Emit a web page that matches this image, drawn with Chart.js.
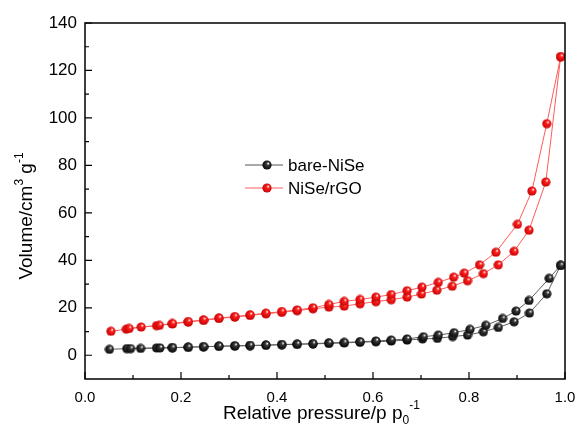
<!DOCTYPE html>
<html lang="en">
<head>
  <meta charset="UTF-8" />
  <title>BET isotherms</title>
  <script src="https://cdn.jsdelivr.net/npm/chart.js"></script>
  <style>
    body { margin: 0; background: #fff; }
    canvas { display: block; }
  </style>
</head>
<body>
  <canvas id="iso" width="577" height="439"></canvas>

  <script>
    // tick labels
    const xTicks = [0, 0.2, 0.4, 0.6, 0.8, 1.0];
    const xMinor = [0.1, 0.3, 0.5, 0.7, 0.9];
    const yTicks = [0, 20, 40, 60, 80, 100, 120, 140];
    const yMinor = [10, 30, 50, 70, 90, 110, 130];

    // bare-NiSe, adsorption + desorption branch
    const bareAdsP = [0.051, 0.087, 0.116, 0.149, 0.182, 0.215, 0.247, 0.279, 0.312, 0.344, 0.377, 0.410, 0.442, 0.475, 0.508, 0.540, 0.573, 0.606, 0.638, 0.671, 0.703, 0.734, 0.766, 0.797, 0.830, 0.861, 0.894, 0.926, 0.962, 0.991];
    const bareAdsV = [2.5, 2.8, 2.9, 3.1, 3.2, 3.4, 3.6, 3.8, 3.9, 4.1, 4.2, 4.5, 4.6, 4.8, 5.0, 5.2, 5.5, 5.7, 6.0, 6.4, 6.9, 7.1, 7.9, 8.5, 9.9, 11.7, 14.1, 17.8, 25.9, 37.9];
    const bareDesP = [0.991, 0.967, 0.925, 0.898, 0.870, 0.835, 0.802, 0.769, 0.736, 0.705, 0.671, 0.638, 0.606, 0.573, 0.540, 0.508, 0.475, 0.442, 0.410, 0.377, 0.344, 0.312, 0.279, 0.247, 0.215, 0.182, 0.156, 0.095];
    const bareDesV = [37.9, 32.4, 23.1, 18.6, 15.5, 12.6, 10.9, 9.5, 8.5, 7.8, 6.9, 6.4, 6.0, 5.7, 5.4, 5.2, 4.9, 4.7, 4.5, 4.3, 4.1, 4.0, 3.8, 3.6, 3.4, 3.2, 3.1, 2.8];

    // NiSe/rGO
    const rgoAdsP = [0.054, 0.086, 0.117, 0.149, 0.182, 0.215, 0.247, 0.279, 0.312, 0.344, 0.377, 0.410, 0.442, 0.475, 0.508, 0.540, 0.573, 0.606, 0.638, 0.671, 0.701, 0.733, 0.765, 0.797, 0.830, 0.861, 0.894, 0.925, 0.960, 0.991];
    const rgoAdsV = [10.1, 11.0, 11.9, 12.5, 13.2, 14.0, 14.7, 15.5, 16.1, 16.8, 17.5, 18.1, 18.8, 19.6, 20.3, 20.7, 21.7, 22.6, 23.4, 24.5, 25.8, 27.4, 29.1, 31.4, 34.4, 38.1, 43.8, 52.7, 73.0, 125.8];
    const rgoDesP = [0.991, 0.962, 0.931, 0.901, 0.856, 0.822, 0.790, 0.768, 0.736, 0.702, 0.671, 0.638, 0.606, 0.573, 0.540, 0.508, 0.475, 0.442, 0.410, 0.377, 0.344, 0.312, 0.279, 0.247, 0.215, 0.182, 0.155, 0.092];
    const rgoDesV = [125.8, 97.6, 69.2, 55.2, 43.4, 38.1, 34.6, 32.9, 30.7, 28.7, 27.2, 25.6, 24.5, 23.5, 22.7, 21.4, 20.0, 19.1, 18.4, 17.7, 17.0, 16.3, 15.7, 14.9, 14.2, 13.4, 12.6, 11.3];

    const FONT = "'Liberation Sans', Arial, sans-serif";

    function pts(px, vy) {
      return px.map((p, i) => ({ x: p, y: vy[i] }));
    }

    // shaded sphere marker like the origin plot
    function ball(mid, dark) {
      const c = document.createElement('canvas');
      c.width = c.height = 10;
      const g = c.getContext('2d');
      const grd = g.createRadialGradient(6.4, 3.3, 0.2, 5, 5, 5);
      grd.addColorStop(0, '#fff');
      grd.addColorStop(0.3, mid);
      grd.addColorStop(1, dark);
      g.fillStyle = grd;
      g.beginPath();
      g.arc(5, 5, 4.6, 0, Math.PI * 2);
      g.fill();
      return c;
    }
    const blackBall = ball('#3a3a3a', '#000');
    const redBall = ball('#ff2020', '#c00000');

    // text with super/subscripts
    function richWidth(ctx, parts) {
      let w = 0;
      parts.forEach(p => { ctx.font = p.size + 'px ' + FONT; w += ctx.measureText(p.t).width; });
      return w;
    }
    function drawRich(ctx, parts, x, y) {
      parts.forEach(p => {
        ctx.font = p.size + 'px ' + FONT;
        ctx.fillText(p.t, x, y + (p.dy || 0));
        x += ctx.measureText(p.t).width;
      });
    }

    const decor = {
      id: 'decor',
      afterDraw(chart) {
        const ctx = chart.ctx;
        const a = chart.chartArea;
        const xs = chart.scales.x, ys = chart.scales.y;
        ctx.save();
        ctx.strokeStyle = '#000';
        ctx.lineWidth = 1.5;
        ctx.strokeRect(a.left, a.top, a.right - a.left, a.bottom - a.top);

        ctx.lineWidth = 1.2;
        ctx.beginPath();
        xTicks.forEach(v => { const x = xs.getPixelForValue(v); ctx.moveTo(x, a.bottom); ctx.lineTo(x, a.bottom - 7); });
        xMinor.forEach(v => { const x = xs.getPixelForValue(v); ctx.moveTo(x, a.bottom); ctx.lineTo(x, a.bottom - 4); });
        yTicks.forEach(v => { const y = ys.getPixelForValue(v); ctx.moveTo(a.left, y); ctx.lineTo(a.left + 7, y); });
        yMinor.forEach(v => { const y = ys.getPixelForValue(v); ctx.moveTo(a.left, y); ctx.lineTo(a.left + 4, y); });
        ctx.stroke();

        ctx.fillStyle = '#000';
        ctx.textBaseline = 'alphabetic';
        ctx.textAlign = 'left';
        drawRich(ctx, [
          { t: 'Relative pressure/p p', size: 19 },
          { t: '0', size: 12, dy: 5 },
          { t: '-1', size: 12, dy: -10 }
        ], 223, 419);

        const yParts = [
          { t: 'Volume/cm', size: 19 },
          { t: '3', size: 12, dy: -9 },
          { t: ' g', size: 19 },
          { t: '-1', size: 12, dy: -9 }
        ];
        const w = richWidth(ctx, yParts);
        ctx.translate(32, 216 + w / 2);
        ctx.rotate(-Math.PI / 2);
        drawRich(ctx, yParts, 0, 0);
        ctx.restore();

        // legend
        ctx.save();
        const rows = [
          { y: 165, line: '#555', img: blackBall, label: 'bare-NiSe' },
          { y: 188, line: '#ff5a5a', img: redBall, label: 'NiSe/rGO' }
        ];
        ctx.font = '17px ' + FONT;
        ctx.textBaseline = 'middle';
        ctx.fillStyle = '#000';
        rows.forEach(r => {
          ctx.strokeStyle = r.line;
          ctx.lineWidth = 1;
          ctx.beginPath();
          ctx.moveTo(245, r.y);
          ctx.lineTo(283, r.y);
          ctx.stroke();
          ctx.drawImage(r.img, 262, r.y - 5);
          ctx.fillText(r.label, 288, r.y + 1);
        });
        ctx.restore();
      }
    };

    new Chart(document.getElementById('iso'), {
      type: 'scatter',
      data: {
        datasets: [
          {
            label: 'bare-NiSe',
            data: pts(bareAdsP, bareAdsV).concat(pts(bareDesP, bareDesV)),
            showLine: true,
            borderColor: '#606060',
            borderWidth: 1,
            pointStyle: blackBall,
            pointRadius: 5
          },
          {
            label: 'NiSe/rGO',
            data: pts(rgoAdsP, rgoAdsV).concat(pts(rgoDesP, rgoDesV)),
            showLine: true,
            borderColor: '#ff5a5a',
            borderWidth: 1,
            pointStyle: redBall,
            pointRadius: 5
          }
        ]
      },
      options: {
        responsive: false,
        animation: false,
        layout: { padding: { top: 23, right: 12, left: 0, bottom: 0 } },
        plugins: {
          legend: { display: false },
          tooltip: { enabled: false }
        },
        scales: {
          x: {
            type: 'linear',
            min: 0,
            max: 1,
            afterBuildTicks: s => { s.ticks = xTicks.map(v => ({ value: v })); },
            afterFit: s => { s.height = 60; s.paddingLeft = 0; s.paddingRight = 0; },
            ticks: {
              callback: v => Number(v).toFixed(1),
              font: { family: FONT, size: 15 },
              color: '#000',
              padding: 10,
              maxRotation: 0,
              autoSkip: false
            },
            grid: { display: false, drawTicks: false },
            border: { display: false }
          },
          y: {
            type: 'linear',
            min: -10,
            max: 140,
            afterBuildTicks: s => { s.ticks = yTicks.map(v => ({ value: v })); },
            afterFit: s => { s.width = 85; s.paddingTop = 0; s.paddingBottom = 0; },
            ticks: {
              font: { family: FONT, size: 17 },
              color: '#000',
              padding: 8
            },
            grid: { display: false, drawTicks: false },
            border: { display: false }
          }
        }
      },
      plugins: [decor]
    });
  </script>
</body>
</html>
